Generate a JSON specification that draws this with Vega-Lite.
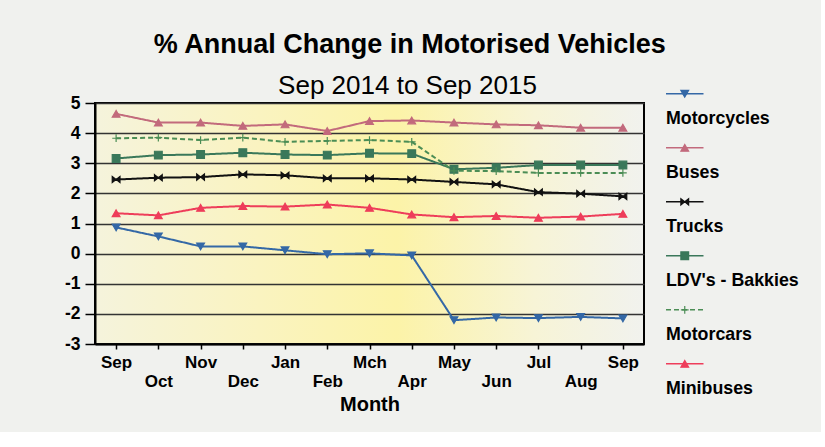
{
  "$schema": "https://vega.github.io/schema/vega-lite/v6.json",
  "background": "#f0f1ee",
  "padding": {"left": 63, "top": 31, "right": 5, "bottom": 5},
  "title": {"text": "% Annual Change in Motorised Vehicles", "fontSize": 27, "fontWeight": "bold", "font": "Liberation Sans", "color": "#000", "anchor": "middle", "dx": -30, "offset": 13},
  "datasets": {
    "legend": [
      {"series": "Motorcycles"}, {"series": "Buses"}, {"series": "Trucks"},
      {"series": "LDV's - Bakkies"}, {"series": "Motorcars"}, {"series": "Minibuses"}
    ],
    "vehicles": [
      {"month": "Sep 2014", "series": "Motorcycles", "value": 0.87},
      {"month": "Oct 2014", "series": "Motorcycles", "value": 0.57},
      {"month": "Nov 2014", "series": "Motorcycles", "value": 0.24},
      {"month": "Dec 2014", "series": "Motorcycles", "value": 0.24},
      {"month": "Jan 2015", "series": "Motorcycles", "value": 0.11},
      {"month": "Feb 2015", "series": "Motorcycles", "value": -0.02},
      {"month": "Mch 2015", "series": "Motorcycles", "value": 0.01},
      {"month": "Apr 2015", "series": "Motorcycles", "value": -0.06},
      {"month": "May 2015", "series": "Motorcycles", "value": -2.21},
      {"month": "Jun 2015", "series": "Motorcycles", "value": -2.12},
      {"month": "Jul 2015", "series": "Motorcycles", "value": -2.14},
      {"month": "Aug 2015", "series": "Motorcycles", "value": -2.1},
      {"month": "Sep 2015", "series": "Motorcycles", "value": -2.15},
      {"month": "Sep 2014", "series": "Buses", "value": 4.64},
      {"month": "Oct 2014", "series": "Buses", "value": 4.35},
      {"month": "Nov 2014", "series": "Buses", "value": 4.35},
      {"month": "Dec 2014", "series": "Buses", "value": 4.24},
      {"month": "Jan 2015", "series": "Buses", "value": 4.29},
      {"month": "Feb 2015", "series": "Buses", "value": 4.07},
      {"month": "Mch 2015", "series": "Buses", "value": 4.4},
      {"month": "Apr 2015", "series": "Buses", "value": 4.42},
      {"month": "May 2015", "series": "Buses", "value": 4.35},
      {"month": "Jun 2015", "series": "Buses", "value": 4.29},
      {"month": "Jul 2015", "series": "Buses", "value": 4.26},
      {"month": "Aug 2015", "series": "Buses", "value": 4.18},
      {"month": "Sep 2015", "series": "Buses", "value": 4.18},
      {"month": "Sep 2014", "series": "Trucks", "value": 2.46},
      {"month": "Oct 2014", "series": "Trucks", "value": 2.52},
      {"month": "Nov 2014", "series": "Trucks", "value": 2.54},
      {"month": "Dec 2014", "series": "Trucks", "value": 2.63},
      {"month": "Jan 2015", "series": "Trucks", "value": 2.6},
      {"month": "Feb 2015", "series": "Trucks", "value": 2.5},
      {"month": "Mch 2015", "series": "Trucks", "value": 2.5},
      {"month": "Apr 2015", "series": "Trucks", "value": 2.46},
      {"month": "May 2015", "series": "Trucks", "value": 2.38},
      {"month": "Jun 2015", "series": "Trucks", "value": 2.3},
      {"month": "Jul 2015", "series": "Trucks", "value": 2.04},
      {"month": "Aug 2015", "series": "Trucks", "value": 1.99},
      {"month": "Sep 2015", "series": "Trucks", "value": 1.9},
      {"month": "Sep 2014", "series": "LDV's - Bakkies", "value": 3.16},
      {"month": "Oct 2014", "series": "LDV's - Bakkies", "value": 3.27},
      {"month": "Nov 2014", "series": "LDV's - Bakkies", "value": 3.29},
      {"month": "Dec 2014", "series": "LDV's - Bakkies", "value": 3.35},
      {"month": "Jan 2015", "series": "LDV's - Bakkies", "value": 3.29},
      {"month": "Feb 2015", "series": "LDV's - Bakkies", "value": 3.27},
      {"month": "Mch 2015", "series": "LDV's - Bakkies", "value": 3.33},
      {"month": "Apr 2015", "series": "LDV's - Bakkies", "value": 3.32},
      {"month": "May 2015", "series": "LDV's - Bakkies", "value": 2.8},
      {"month": "Jun 2015", "series": "LDV's - Bakkies", "value": 2.85},
      {"month": "Jul 2015", "series": "LDV's - Bakkies", "value": 2.94},
      {"month": "Aug 2015", "series": "LDV's - Bakkies", "value": 2.94},
      {"month": "Sep 2015", "series": "LDV's - Bakkies", "value": 2.94},
      {"month": "Sep 2014", "series": "Motorcars", "value": 3.83},
      {"month": "Oct 2014", "series": "Motorcars", "value": 3.85},
      {"month": "Nov 2014", "series": "Motorcars", "value": 3.77},
      {"month": "Dec 2014", "series": "Motorcars", "value": 3.85},
      {"month": "Jan 2015", "series": "Motorcars", "value": 3.71},
      {"month": "Feb 2015", "series": "Motorcars", "value": 3.74},
      {"month": "Mch 2015", "series": "Motorcars", "value": 3.77},
      {"month": "Apr 2015", "series": "Motorcars", "value": 3.71},
      {"month": "May 2015", "series": "Motorcars", "value": 2.75},
      {"month": "Jun 2015", "series": "Motorcars", "value": 2.74},
      {"month": "Jul 2015", "series": "Motorcars", "value": 2.68},
      {"month": "Aug 2015", "series": "Motorcars", "value": 2.68},
      {"month": "Sep 2015", "series": "Motorcars", "value": 2.68},
      {"month": "Sep 2014", "series": "Minibuses", "value": 1.34},
      {"month": "Oct 2014", "series": "Minibuses", "value": 1.27},
      {"month": "Nov 2014", "series": "Minibuses", "value": 1.52},
      {"month": "Dec 2014", "series": "Minibuses", "value": 1.58},
      {"month": "Jan 2015", "series": "Minibuses", "value": 1.56},
      {"month": "Feb 2015", "series": "Minibuses", "value": 1.63},
      {"month": "Mch 2015", "series": "Minibuses", "value": 1.52},
      {"month": "Apr 2015", "series": "Minibuses", "value": 1.3},
      {"month": "May 2015", "series": "Minibuses", "value": 1.21},
      {"month": "Jun 2015", "series": "Minibuses", "value": 1.25},
      {"month": "Jul 2015", "series": "Minibuses", "value": 1.19},
      {"month": "Aug 2015", "series": "Minibuses", "value": 1.23},
      {"month": "Sep 2015", "series": "Minibuses", "value": 1.32}
    ]
  },
  "hconcat": [
    {
      "width": 549,
      "height": 241,
      "data": {"name": "vehicles"},
      "view": {"stroke": "#000", "strokeWidth": 2, "fill": {"gradient": "linear", "x1": 0, "y1": 0, "x2": 1, "y2": 0, "stops": [{"offset": 0, "color": "#f5f3dc"}, {"offset": 0.3, "color": "#faf3c0"}, {"offset": 0.55, "color": "#fcf3a8"}, {"offset": 0.8, "color": "#f7f4d6"}, {"offset": 1, "color": "#f1f2ee"}]}},
      "title": {"text": "Sep 2014 to Sep 2015", "fontSize": 26, "fontWeight": "normal", "font": "Liberation Sans", "color": "#000", "anchor": "middle", "dx": 38, "offset": -5},
      "encoding": {
        "x": {"field": "month", "type": "ordinal",
          "sort": ["Sep 2014","Oct 2014","Nov 2014","Dec 2014","Jan 2015","Feb 2015","Mch 2015","Apr 2015","May 2015","Jun 2015","Jul 2015","Aug 2015","Sep 2015"],
          "scale": {"type": "point", "padding": 0.5},
          "axis": {"title": "Month", "titleFont": "Liberation Sans", "titleFontSize": 20, "titleFontWeight": "bold", "titleColor": "#000", "titlePadding": 5,
            "labelAngle": 0, "labelOverlap": false, "labelFont": "Liberation Sans", "labelFontSize": 17, "labelFontWeight": "bold", "labelColor": "#000",
            "labelBaseline": "top", "labelLineHeight": 19, "labelPadding": 5,
            "labelExpr": "indexof(['Oct','Dec','Feb','Apr','Jun','Aug'], slice(datum.value,0,3)) >= 0 ? ['', slice(datum.value,0,3)] : slice(datum.value,0,3)",
            "tickSize": 5, "tickColor": "#000", "tickWidth": 1.5, "domainColor": "#000", "domainWidth": 2, "grid": false}},
        "y": {"field": "value", "type": "quantitative",
          "scale": {"domain": [-3, 5], "nice": false, "zero": false},
          "axis": {"title": null, "values": [-3,-2,-1,0,1,2,3,4,5],
            "labelExpr": "datum.value < 0 ? '-' + abs(datum.value) : '' + datum.value",
            "labelFont": "Liberation Sans", "labelFontSize": 17.5, "labelFontWeight": "bold", "labelColor": "#000", "labelPadding": 5,
            "tickSize": 10, "tickColor": "#000", "tickWidth": 1.5, "domainColor": "#000", "domainWidth": 2,
            "grid": true, "gridColor": "#333", "gridWidth": 1.5}}
      },
      "layer": [
        {
          "mark": {"type": "line", "strokeWidth": 2},
          "encoding": {
            "stroke": {"field": "series", "type": "nominal", "legend": null,
              "scale": {"domain": ["Motorcycles","Buses","Trucks","LDV's - Bakkies","Motorcars","Minibuses"], "range": ["#3468a6","#c26a7c","#111111","#3a785a","#4b8d55","#ee3d5a"]}},
            "strokeDash": {"field": "series", "type": "nominal", "legend": null,
              "scale": {"domain": ["Motorcycles","Buses","Trucks","LDV's - Bakkies","Motorcars","Minibuses"], "range": [[1,0],[1,0],[1,0],[1,0],[5,3],[1,0]]}}
          }
        },
        {
          "mark": {"type": "point", "size": 60, "strokeWidth": 1.2, "opacity": 1},
          "encoding": {
            "shape": {"field": "series", "type": "nominal", "legend": null,
              "scale": {"domain": ["Motorcycles","Buses","Trucks","LDV's - Bakkies","Motorcars","Minibuses"], "range": ["triangle-down","triangle-up","M-1,-0.8L0,0L-1,0.8ZM1,-0.8L0,0L1,0.8Z","square","M-1,0L1,0M0,-1L0,1","triangle-up"]}},
            "fill": {"field": "series", "type": "nominal", "legend": null,
              "scale": {"domain": ["Motorcycles","Buses","Trucks","LDV's - Bakkies","Motorcars","Minibuses"], "range": ["#3468a6","#c26a7c","#111111","#3a785a","#4b8d55","#ee3d5a"]}},
            "stroke": {"field": "series", "type": "nominal", "legend": null}
          }
        }
      ]
    },
    {
      "width": 150,
      "height": 324,
      "data": {"name": "legend"},
      "view": {"stroke": null, "fill": null},
      "encoding": {
        "y": {"field": "series", "type": "nominal", "sort": ["Motorcycles","Buses","Trucks","LDV's - Bakkies","Motorcars","Minibuses"],
          "scale": {"type": "band", "paddingInner": 0, "paddingOuter": 0}, "bandPosition": -0.17, "axis": null}
      },
      "layer": [
        {
          "mark": {"type": "rule", "strokeWidth": 1.5},
          "encoding": {
            "x": {"datum": 0, "type": "quantitative", "scale": {"domain": [0, 3.75]}, "axis": null},
            "x2": {"datum": 1},
            "stroke": {"field": "series", "type": "nominal", "legend": null},
            "strokeDash": {"field": "series", "type": "nominal", "legend": null}
          }
        },
        {
          "mark": {"type": "point", "size": 60, "strokeWidth": 1.2, "opacity": 1},
          "encoding": {
            "x": {"datum": 0.5, "type": "quantitative"},
            "shape": {"field": "series", "type": "nominal", "legend": null},
            "fill": {"field": "series", "type": "nominal", "legend": null},
            "stroke": {"field": "series", "type": "nominal", "legend": null}
          }
        },
        {
          "mark": {"type": "text", "align": "left", "baseline": "alphabetic", "dy": 30, "font": "Liberation Sans", "fontSize": 17.8, "fontWeight": "bold", "color": "#000"},
          "encoding": {
            "x": {"datum": 0, "type": "quantitative"},
            "text": {"field": "series", "type": "nominal"}
          }
        }
      ]
    }
  ],
  "spacing": 20,
  "config": {"font": "Liberation Sans"}
}
